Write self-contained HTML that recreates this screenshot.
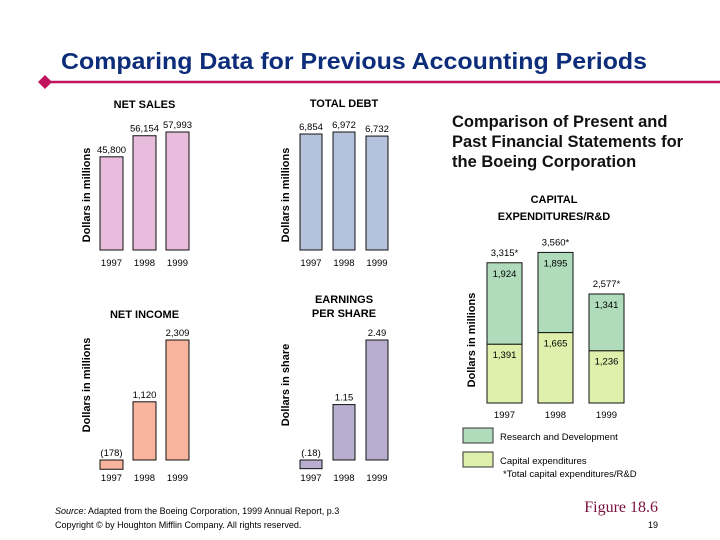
<!DOCTYPE html>
<html><head><meta charset="utf-8"><style>
body{margin:0;background:#fff}
svg{display:block;font-family:"Liberation Sans",sans-serif}
</style></head><body>
<svg id="s" width="720" height="540" viewBox="0 0 720 540">
<text x="354" y="69" text-anchor="middle" font-size="23" font-weight="bold" fill="#0d2d7a" textLength="586" lengthAdjust="spacingAndGlyphs">Comparing Data for Previous Accounting Periods</text>
<line x1="45" y1="82" x2="720" y2="82" stroke="#c0145e" stroke-width="2.5"/>
<polygon points="45,75 52,82 45,89 38,82" fill="#c0145e"/>
<text x="452" y="127" font-size="16.5" font-weight="bold" fill="#111"><tspan x="452">Comparison of Present and</tspan><tspan x="452" dy="20">Past Financial Statements for</tspan><tspan x="452" dy="20">the Boeing Corporation</tspan></text>
<text x="554" y="203" text-anchor="middle" font-size="11" font-weight="bold"><tspan x="554">CAPITAL</tspan><tspan x="554" dy="17">EXPENDITURES/R&amp;D</tspan></text>
<g id="charts"></g>
<rect x="463" y="428" width="30" height="15" fill="#b0dcbc" stroke="#333" stroke-width="1"/>
<text x="500" y="440" font-size="9.5">Research and Development</text>
<rect x="463" y="452" width="30" height="15" fill="#dff0ac" stroke="#333" stroke-width="1"/>
<text x="500" y="464" font-size="9.5">Capital expenditures</text>
<text x="503" y="477" font-size="9.5">*Total capital expenditures/R&amp;D</text>
<text x="55" y="514" font-size="9"><tspan font-style="italic">Source:</tspan> Adapted from the Boeing Corporation, 1999 Annual Report, p.3</text>
<text x="55" y="528" font-size="9">Copyright © by Houghton Mifflin Company. All rights reserved.</text>
<text x="658" y="512" text-anchor="end" font-size="16" font-family="Liberation Serif,serif" fill="#7a1040">Figure 18.6</text>
<text x="658" y="528" text-anchor="end" font-size="9">19</text>
</svg>
<script>
const years = ["1997","1998","1999"];
const netSales = [45800, 56154, 57993];
const netSalesLabels = ["45,800","56,154","57,993"];
const totalDebt = [6854, 6972, 6732];
const totalDebtLabels = ["6,854","6,972","6,732"];
const netIncome = [-178, 1120, 2309];
const netIncomeLabels = ["(178)","1,120","2,309"];
const eps = [-0.18, 1.15, 2.49];
const epsLabels = ["(.18)","1.15","2.49"];
const capex = [1391, 1665, 1236];
const capexLabels = ["1,391","1,665","1,236"];
const rd = [1924, 1895, 1341];
const rdLabels = ["1,924","1,895","1,341"];
const totalLabels = ["3,315*","3,560*","2,577*"];

const NS='http://www.w3.org/2000/svg';
const g=document.getElementById('charts');
function mk(tag,attrs,txt){const e=document.createElementNS(NS,tag);for(const k in attrs)e.setAttribute(k,attrs[k]);if(txt!=null)e.textContent=txt;g.appendChild(e);return e;}

function barChart(o){
  const yScale=v=>o.base - v*o.k;
  o.vals.forEach((v,i)=>{
    const x=o.x0+i*o.step;
    const y1=yScale(Math.max(v,0)), y2=yScale(Math.min(v,0));
    const r=mk('rect',{x:x,y:y1,width:o.w,height:Math.max(y2-y1,0.5),fill:o.fill,stroke:'#111','stroke-width':1});
    
    
    const t=mk('text',{x:x+o.w/2,y:y1-4,'text-anchor':'middle','font-size':9.5},o.labels[i]);
    
    
    const yl=mk('text',{x:x+o.w/2,y:o.yearY,'text-anchor':'middle','font-size':9.5},years[i]);
    
    
  });
  const cx=o.x0+o.step+o.w/2;
  o.title.forEach((tl,j)=>{
    const t=mk('text',{x:cx,y:o.titleY+j*14,'text-anchor':'middle','font-size':11,'font-weight':'bold'},tl);
    
    
  });
  const a=mk('text',{transform:`translate(${o.axX},${o.axY}) rotate(-90)`,'text-anchor':'middle','font-size':11,'font-weight':'bold'},o.axis);
  
  
}
barChart({name:'net-sales',vals:netSales,labels:netSalesLabels,x0:100,step:33,w:23,base:250,k:118/57993,fill:'#e8bcdc',yearY:266,title:['NET SALES'],titleY:108,axis:'Dollars in millions',axX:90,axY:195});
barChart({name:'total-debt',vals:totalDebt,labels:totalDebtLabels,x0:300,step:33,w:22,base:250,k:116/6854,fill:'#b4c2de',yearY:266,title:['TOTAL DEBT'],titleY:107,axis:'Dollars in millions',axX:289,axY:195});
barChart({name:'net-income',vals:netIncome,labels:netIncomeLabels,x0:100,step:33,w:23,base:460,k:120/2309,fill:'#f8b49c',yearY:481,title:['NET INCOME'],titleY:318,axis:'Dollars in millions',axX:90,axY:385});
barChart({name:'eps',vals:eps,labels:epsLabels,x0:300,step:33,w:22,base:460,k:120/2.49,fill:'#b8aed0',yearY:481,title:['EARNINGS','PER SHARE'],titleY:303,axis:'Dollars in share',axX:289,axY:385});

const cxs=[487,538,589], cw=35, cbase=403, ck=0.0423;
years.forEach((yr,i)=>{
  const x=cxs[i];
  const hC=capex[i]*ck, hR=rd[i]*ck;
  const r1=mk('rect',{x:x,y:cbase-hC,width:cw,height:hC,fill:'#dff0ac',stroke:'#111','stroke-width':1});
  
  
  const r2=mk('rect',{x:x,y:cbase-hC-hR,width:cw,height:hR,fill:'#b0dcbc',stroke:'#111','stroke-width':1});
  
  
  const t1=mk('text',{x:x+cw/2,y:cbase-hC+14,'text-anchor':'middle','font-size':9.5},capexLabels[i]);
  
  
  const t2=mk('text',{x:x+cw/2,y:cbase-hC-hR+14,'text-anchor':'middle','font-size':9.5},rdLabels[i]);
  
  
  const t3=mk('text',{x:x+cw/2,y:cbase-hC-hR-7,'text-anchor':'middle','font-size':9.5},totalLabels[i]);
  
  
  const t4=mk('text',{x:x+cw/2,y:418,'text-anchor':'middle','font-size':9.5},yr);
  
  
});
const ca=mk('text',{transform:'translate(475,340) rotate(-90)','text-anchor':'middle','font-size':11,'font-weight':'bold'},'Dollars in millions');


</script>
</body></html>
